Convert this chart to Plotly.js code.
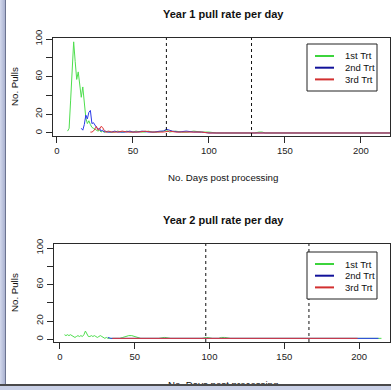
<!DOCTYPE html>
<html>
<head>
<meta charset="utf-8">
<script src="https://cdn.plot.ly/plotly-3.0.1.min.js"></script>
<style>
  html, body { margin: 0; padding: 0; background: #fff; }
  #wrap { position: relative; width: 391px; height: 390px; overflow: hidden; }
  #chart { position: absolute; left: 0; top: 0; width: 391px; height: 390px; }
  #frameL { position: absolute; left: 0; top: 0; width: 5px; height: 390px;
            background: linear-gradient(to right, #d2d8ec, #aab2d0); pointer-events: none; }
  #frameL2 { position: absolute; left: 5px; top: 0; width: 1px; height: 390px; background: #6c7490; pointer-events: none; }
  #frameB { position: absolute; left: 0; top: 384px; width: 391px; height: 2px; background: #4a4a4a; pointer-events: none; }
  #frameB2 { position: absolute; left: 0; top: 386px; width: 391px; height: 4px; background: #c9d0e6; pointer-events: none; }
</style>
</head>
<body>
<div id="wrap">
  <div id="chart"></div>
  <div id="frameL"></div>
  <div id="frameL2"></div>
  <div id="frameB"></div>
  <div id="frameB2"></div>
</div>
<script>
// ---------- Data ----------
// Year 1
const y1GreenDays = [7,8,9,10,11,12,13,14,15,16,17,18,19,20,21,22,23,24,25,26,27,28,29,30,31,32,33,34,
  36,38,40,42,44,46,48,50,52,55,58,60,63,66,70,72,74,78,82,86,90,95,100,105,110,120,130,133,135,137,140,150,160,170,180,190,200,210,220];
const y1GreenPulls = [2,5,35,66,97,76,57,65,50,38,49,33,16,10,13,9,6,5,4,3,2,3,1,2,1,1,2,1,
  1,1,2,1,1,2,1,1,2,1,1,2,1,1,2,3,1,2,1,1,2,1,1,0,0,0,0,1,1,0,0,0,0,0,0,0,0,0,0];

const y1BlueDays = [16,17,18,19,20,21,22,23,24,25,26,27,28,29,30,31,32,33,34,
  36,38,40,42,45,48,50,53,56,60,64,68,70,72,74,76,80,85,90,95,100,110,120,130,140,150,160,170,180,190,200,210,220];
const y1BluePulls = [5,3,9,19,15,22,24,10,11,8,6,4,5,2,3,1,2,1,1,
  1,2,1,1,1,2,1,1,2,1,1,2,2,4,3,2,1,2,1,1,0,0,0,0,0,0,0,0,0,0,0,0,0];

const y1RedDays = [22,23,24,25,26,27,28,29,30,31,32,33,34,
  36,38,40,43,46,50,54,58,62,66,70,74,78,82,86,90,95,100,110,120,130,140,150,160,170,180,190,200,210,220];
const y1RedPulls = [1,1,2,5,7,3,4,7,6,3,1,1,2,
  1,1,1,2,1,1,1,2,1,1,1,2,1,1,1,1,1,0,0,0,0,0,0,0,0,0,0,0,0,0];

// Year 2
const y2GreenDays = [3,4,5,6,7,8,9,10,11,12,13,14,15,16,17,18,19,20,21,22,23,24,25,26,27,28,29,30,31,32,33,34,
  36,38,40,42,44,46,48,50,52,54,58,62,66,70,74,78,82,86,90,95,98,102,106,108,110,114,120,130,140,150,160,170,180,190,200,205,210,215];
const y2GreenPulls = [5,4,5,4,5,4,3,2,3,4,3,4,3,5,9,5,3,3,4,3,4,3,2,3,4,3,2,1,2,1,1,1,
  1,1,1,2,3,4,4,3,2,1,1,1,1,2,1,1,1,1,1,1,2,1,1,2,2,1,1,1,1,1,1,1,1,1,1,1,1,1];

const y2BlueDays = [32,34,36,40,45,50,60,70,80,90,100,110,120,130,140,150,160,170,180,190,200,205,213];
const y2BluePulls = [2,1,1,1,1,1,1,1,1,1,1,1,1,1,1,1,1,1,1,1,1,1,1];

const y2RedDays = [35,40,45,50,55,60,70,80,90,100,110,120,130,140,150,160,170,180,190,199];
const y2RedPulls = [1,1,1,1,1,1,1,1,1,1,1,1,1,1,1,1,1,1,1,1];

// Reference (processing) days marked with dashed lines
const y1Marks = [72, 128];
const y2Marks = [97.5, 166.5];

const seriesNames = ['1st Trt', '2nd Trt', '3rd Trt'];
const xTicks = [0, 50, 100, 150, 200];
const yTicks = [0, 20, 40, 60, 80, 100];
const yTickText = ['0', '20', '', '60', '', '100'];

// ---------- Styles ----------
const lineColors = ['#4ede4e', '#2a3ae8', '#e03636'];
const legendColors = ['#3cd43c', '#12129a', '#d23030'];
const FONT = 'Liberation Sans, Arial, Helvetica, sans-serif';
const W = 391, H = 390, ML = 53, MR = 1;
const PW = W - ML - MR;
const px2x = p => (p - ML) / PW;
const px2y = p => 1 - p / H;

function tr(x, y, i, xa, ya) {
  return { x: x, y: y, name: seriesNames[i], type: 'scatter', mode: 'lines',
    line: { color: lineColors[i], width: 1 }, xaxis: xa, yaxis: ya, showlegend: false,
    hoverinfo: 'skip' };
}

const data = [
  tr(y1GreenDays, y1GreenPulls, 0, 'x', 'y'),
  tr(y1BlueDays, y1BluePulls, 1, 'x', 'y'),
  tr(y1RedDays, y1RedPulls, 2, 'x', 'y'),
  tr(y2GreenDays, y2GreenPulls, 0, 'x2', 'y2'),
  tr(y2BlueDays, y2BluePulls, 1, 'x2', 'y2'),
  tr(y2RedDays, y2RedPulls, 2, 'x2', 'y2')
];

const axisCommon = {
  showgrid: false, zeroline: false, showline: true, mirror: true,
  linecolor: '#2a2a2a', linewidth: 1,
  ticks: 'outside', ticklen: 6, tickwidth: 1, tickcolor: '#2a2a2a',
  tickfont: { family: FONT, size: 9.5, color: '#222' }, fixedrange: true
};

const shapes = [];
y1Marks.forEach(v => shapes.push({ type: 'line', xref: 'x', yref: 'y domain', x0: v, x1: v, y0: 0, y1: 1,
  line: { color: '#111', width: 1, dash: '3px,3px' } }));
y2Marks.forEach(v => shapes.push({ type: 'line', xref: 'x2', yref: 'y2 domain', x0: v, x1: v, y0: 0, y1: 1,
  line: { color: '#111', width: 1, dash: '3px,3px' } }));

const annotations = [];
function txt(text, xp, yp, opts) {
  annotations.push(Object.assign({ text: text, xref: 'paper', yref: 'paper', x: px2x(xp), y: px2y(yp),
    showarrow: false, xanchor: 'center', yanchor: 'middle',
    font: { family: FONT, size: 9.7, color: '#111' } }, opts || {}));
}

// Titles and axis titles
txt('<b>Year 1 pull rate per day</b>', 223.4, 14, { font: { family: FONT, size: 11, color: '#111' } });
txt('<b>Year 2 pull rate per day</b>', 223.4, 220, { font: { family: FONT, size: 11, color: '#111' } });
txt('No. Days post processing', 223, 178);
txt('No. Days post processing', 223, 384);
txt('No. Pulls', 14, 87, { textangle: -90 });
txt('No. Pulls', 14, 293, { textangle: -90 });

// Manual legends (R-style compact boxes)
function legend(boxTop) {
  shapes.push({ type: 'rect', xref: 'paper', yref: 'paper', x0: px2x(307), x1: px2x(377),
    y0: px2y(boxTop), y1: px2y(boxTop + 47), line: { color: '#222', width: 1 }, fillcolor: '#fff', layer: 'above' });
  seriesNames.forEach((n, i) => {
    const yy = boxTop + 12 + i * 11.7;
    shapes.push({ type: 'line', xref: 'paper', yref: 'paper', x0: px2x(315), x1: px2x(334),
      y0: px2y(yy), y1: px2y(yy), line: { color: legendColors[i], width: 2 }, layer: 'above' });
    txt(n, 343, yy, { xanchor: 'left', font: { family: FONT, size: 9.5, color: '#111' } });
  });
}
legend(44);
legend(252);

const layout = {
  width: W, height: H,
  margin: { l: ML, r: MR, t: 0, b: 0, pad: 0 },
  paper_bgcolor: 'rgba(0,0,0,0)', plot_bgcolor: '#fff',
  showlegend: false,
  font: { family: FONT, color: '#111' },
  xaxis: Object.assign({}, axisCommon, { domain: [0, 1], range: [-2.6, 219.1], tickvals: xTicks, anchor: 'y' }),
  yaxis: Object.assign({}, axisCommon, { domain: [px2y(136), px2y(38)], range: [-3.2, 101.1],
    tickvals: yTicks, ticktext: yTickText, tickangle: -90, anchor: 'x' }),
  xaxis2: Object.assign({}, axisCommon, { domain: [px2x(54), 1], range: [-4.0, 220.7], tickvals: xTicks, anchor: 'y2' }),
  yaxis2: Object.assign({}, axisCommon, { domain: [px2y(342), px2y(244)], range: [-3.0, 104.4],
    tickvals: yTicks, ticktext: yTickText, tickangle: -90, anchor: 'x2' }),
  shapes: shapes,
  annotations: annotations
};

Plotly.newPlot('chart', data, layout, { displayModeBar: false, staticPlot: true });
</script>
</body>
</html>
